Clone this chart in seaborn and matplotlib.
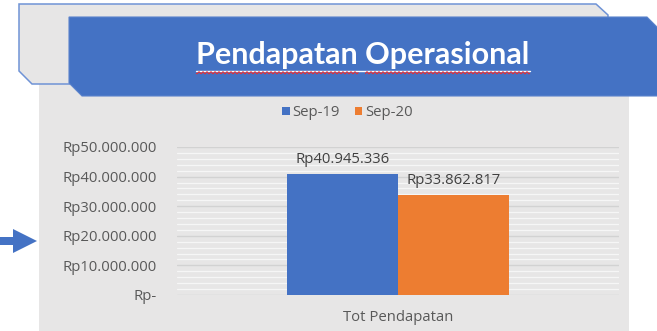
import numpy as np
import pandas as pd
import matplotlib
matplotlib.use("Agg")
import matplotlib.pyplot as plt
from matplotlib.patches import Polygon, Rectangle
from matplotlib.ticker import MultipleLocator
import seaborn as sns

# ---- data ----
periods = ["Sep-19", "Sep-20"]
category = "Tot Pendapatan"
revenue = [40945336, 33862817]
y_ticks = [0, 10000000, 20000000, 30000000, 40000000, 50000000]
y_tick_labels = ["Rp-", "Rp10.000.000", "Rp20.000.000", "Rp30.000.000",
                 "Rp40.000.000", "Rp50.000.000"]
title = "Pendapatan Operasional"

BLUE = "#4472C4"
ORANGE = "#ED7D31"
PANEL = "#E7E6E6"
TEXT = "#595959"
FS = 10.7
TITLE_FS = 22
TITLE_FONT = ["Lato", "DejaVu Sans"]


def rupiah(v):
    return "Rp" + f"{v:,}".replace(",", ".")


sns.set_theme(style="white")
plt.rcParams["font.family"] = ["Open Sans", "DejaVu Sans"]

W, H = 657, 331
fig = plt.figure(figsize=(W / 100, H / 100), dpi=100)
fig.patch.set_facecolor("white")

# background layer in pixel units (y grows downward)
bg = fig.add_axes([0, 0, 1, 1], zorder=0)
bg.set_xlim(0, W)
bg.set_ylim(H, 0)
bg.axis("off")

# grey chart panel
bg.add_patch(Rectangle((39, 84), 590, 260, facecolor=PANEL, edgecolor="none"))

# outlined back tab
bg.add_patch(Polygon([(19, 4), (596, 4), (608, 15), (608, 84), (32, 84), (19, 71)],
                     closed=True, facecolor=PANEL, edgecolor="#6F93D6", lw=1.1))

# blue title banner
bg.add_patch(Polygon([(69, 17), (647, 17), (660, 30), (660, 96), (82, 96), (69, 83)],
                     closed=True, facecolor=BLUE, edgecolor="#5B83CC", lw=0.8))

# arrow on the left
bg.add_patch(Polygon([(0, 237), (13, 237), (13, 229), (37, 241), (13, 253), (13, 245), (0, 245)],
                     closed=True, facecolor=BLUE, edgecolor="none"))

# title with underline and squiggle
t = bg.text(363, 55, title, ha="center", va="center", color="white",
            fontsize=TITLE_FS, fontweight="bold", family=TITLE_FONT)
fig.canvas.draw()
renderer = fig.canvas.get_renderer()
bb = t.get_window_extent(renderer)
x0, x1 = bb.x0, bb.x1
words = title.split(" ")
tmp = bg.text(0, 0, words[0], fontsize=TITLE_FS, fontweight="bold", family=TITLE_FONT)
w0 = tmp.get_window_extent(renderer).width
tmp2 = bg.text(0, 0, words[0] + " ", fontsize=TITLE_FS, fontweight="bold", family=TITLE_FONT)
w0s = tmp2.get_window_extent(renderer).width
tmp.remove()
tmp2.remove()
uy = 70.5
bg.plot([x0, x1], [uy, uy], color="white", lw=1.0)
for a, b in [(x0, x0 + w0), (x0 + w0s, x1)]:
    xs = np.linspace(a, b, int((b - a) * 2))
    ys = uy + 2.3 + 1.0 * np.sin(xs * 2 * np.pi / 4.0)
    bg.plot(xs, ys, color="#E0303A", lw=0.8)

# ---- chart ----
ax = fig.add_axes([177 / W, (H - 295) / H, (619 - 177) / W, (295 - 147) / H], zorder=2)
ax.patch.set_alpha(0)

df = pd.DataFrame({"Kategori": [category] * len(periods),
                   "Periode": periods,
                   "Pendapatan": revenue})
sns.barplot(data=df, x="Kategori", y="Pendapatan", hue="Periode",
            palette=[BLUE, ORANGE], width=0.502, saturation=1,
            ax=ax, legend=False)
for bar in ax.patches:
    bar.set_edgecolor("none")

ax.set_xlim(-0.5, 0.5)
ax.set_ylim(0, 50000000)
ax.set_yticks(y_ticks, y_tick_labels)
ax.yaxis.set_minor_locator(MultipleLocator(2000000))
ax.grid(axis="y", which="major", color="#D2D2D2", lw=1.0)
ax.grid(axis="y", which="minor", color="#F6F6F6", lw=0.9)
ax.grid(axis="x", visible=False)
ax.set_axisbelow(True)
for s in ax.spines.values():
    s.set_visible(False)
ax.set_xlabel("")
ax.set_ylabel("")
ax.tick_params(axis="both", which="both", length=0, labelcolor=TEXT, labelsize=FS)
ax.tick_params(axis="y", pad=14.4)
ax.tick_params(axis="x", pad=10.5)

for cont, v in zip(ax.containers, revenue):
    ax.bar_label(cont, labels=[rupiah(v)], padding=5, color="#404040",
                 fontsize=FS, clip_on=False)

handles = [Rectangle((0, 0), 1, 1, facecolor=c, edgecolor="none") for c in (BLUE, ORANGE)]
fig.legend(handles, periods, loc="center", bbox_to_anchor=(347.5 / W, 1 - 113 / H),
           ncol=2, frameon=False, fontsize=FS, labelcolor=TEXT,
           handlelength=0.5, handleheight=0.5, handletextpad=0.2,
           columnspacing=1.0, borderpad=0, borderaxespad=0)

fig.savefig("out.png", dpi=100, facecolor="white")
